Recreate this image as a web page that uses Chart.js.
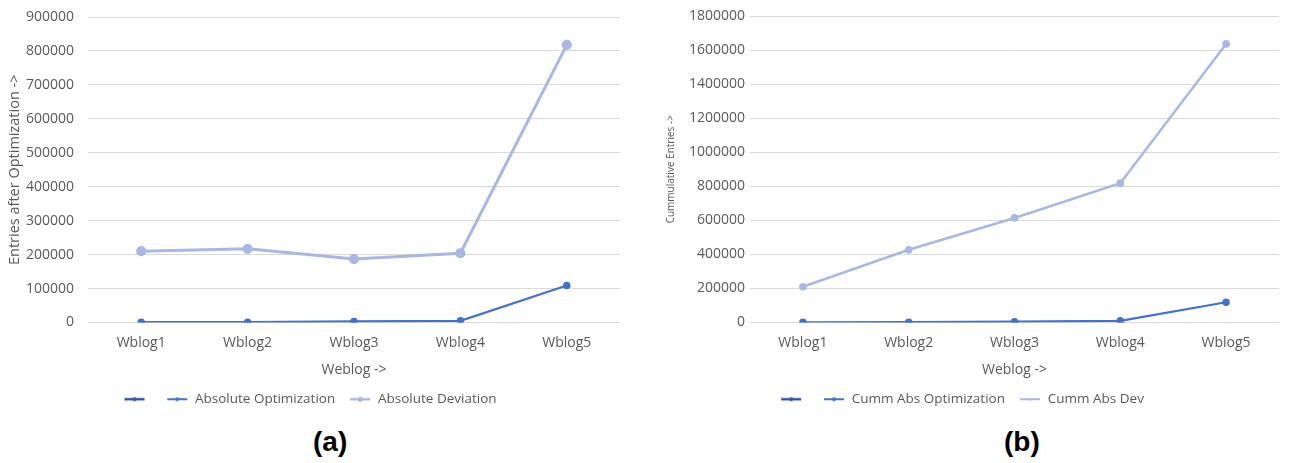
<!DOCTYPE html>
<html>
<head>
<meta charset="utf-8">
<script src="https://cdn.jsdelivr.net/npm/chart.js@4.4.1/dist/chart.umd.min.js"></script>
<style>
  body { margin: 0; background: #fff; width: 1289px; height: 463px; position: relative; overflow: hidden; }
  .panel { position: absolute; top: 0; }
  .tag { position: absolute; top: 426px; font: bold 28px "Liberation Sans", Arial, sans-serif; color: #000; }
</style>
</head>
<body>
<div class="panel" style="left:0"><canvas id="chart-a" width="645" height="420"></canvas></div>
<div class="panel" style="left:645px"><canvas id="chart-b" width="644" height="420"></canvas></div>
<div class="tag" style="left:313px">(a)</div>
<div class="tag" style="left:1004px">(b)</div>
<script>
const weblogs = ["Wblog1", "Wblog2", "Wblog3", "Wblog4", "Wblog5"];

// per-weblog entries
const absOptimization = [1000, 1000, 3000, 5000, 109000];
const absDeviation = [210000, 217000, 187000, 204000, 818000];

// running totals
const cummAbsOptimization = [1000, 2000, 5000, 10000, 119000];
const cummAbsDev = [210000, 427000, 614000, 818000, 1636000];

const DARK = "#2f5597";
const BLUE = "#4472c4";
const LIGHT = "#a9b7e1";
const GRID = "#d9d9d9";
const TEXT = "#595959";

Chart.defaults.font.family = "'Open Sans', sans-serif";
Chart.defaults.color = TEXT;

// little line-with-dot swatch for the legend
function swatch(color, width, radius) {
  const c = document.createElement("canvas");
  c.width = 22;
  c.height = 10;
  const ctx = c.getContext("2d");
  ctx.strokeStyle = color;
  ctx.lineWidth = width;
  ctx.beginPath();
  ctx.moveTo(1, 5);
  ctx.lineTo(21, 5);
  ctx.stroke();
  ctx.fillStyle = color;
  ctx.beginPath();
  ctx.arc(11, 5, radius, 0, Math.PI * 2);
  ctx.fill();
  return c;
}

function makeChart(id, cfg) {
  const datasets = [
    { label: "", data: [], borderColor: DARK, backgroundColor: DARK, legendIcon: swatch(DARK, 2.5, 2) },
    {
      label: cfg.labels[0], data: cfg.opt, borderColor: BLUE, backgroundColor: BLUE,
      borderWidth: 2.25, pointRadius: 2.6, pointHoverRadius: 2.6,
      legendIcon: swatch(BLUE, 2, 2)
    },
    {
      label: cfg.labels[1], data: cfg.dev, borderColor: LIGHT, backgroundColor: LIGHT,
      borderWidth: cfg.devWidth, pointRadius: cfg.devRadius, pointHoverRadius: cfg.devRadius,
      legendIcon: swatch(LIGHT, cfg.devWidth - 0.5, cfg.devRadius - 1)
    }
  ];

  return new Chart(document.getElementById(id), {
    type: "line",
    data: { labels: weblogs, datasets },
    options: {
      responsive: false,
      animation: false,
      layout: { padding: { top: cfg.padTop, right: cfg.padRight, left: 0, bottom: 4 } },
      plugins: {
        tooltip: { enabled: false },
        legend: {
          position: "bottom",
          labels: {
            usePointStyle: true,
            pointStyleWidth: 22,
            padding: 14,
            color: TEXT,
            font: { size: 13.5 },
            generateLabels(chart) {
              return chart.data.datasets.map((ds, i) => ({
                text: ds.label,
                pointStyle: ds.legendIcon,
                fillStyle: ds.borderColor,
                strokeStyle: ds.borderColor,
                lineWidth: 0,
                hidden: false,
                fontColor: TEXT,
                datasetIndex: i
              }));
            }
          }
        }
      },
      scales: {
        x: {
          offset: true,
          grid: { display: false, drawTicks: false },
          border: { display: false },
          ticks: { padding: 12, font: { size: 14 }, color: TEXT },
          title: { display: true, text: "Weblog ->", font: { size: 14 }, color: TEXT, padding: { top: 2, bottom: 0 } },
          afterFit(scale) { scale.height = 56; }
        },
        y: {
          min: 0,
          max: cfg.max,
          grid: { color: GRID, lineWidth: 1, drawTicks: false },
          border: { display: false },
          ticks: {
            stepSize: cfg.step, padding: cfg.tickPad, font: { size: 14 }, color: TEXT,
            callback: value => String(value)
          },
          title: {
            display: true, text: cfg.yTitle, color: TEXT,
            font: { size: cfg.yTitleSize }, padding: { top: cfg.yTitlePad, bottom: 0 }
          },
          afterFit(scale) {
            scale.width = cfg.yWidth;
            // tick padding would otherwise also push the plot down from the top
            scale.paddingTop = 0;
            scale.paddingBottom = 0;
          }
        }
      }
    }
  });
}

makeChart("chart-a", {
  labels: ["Absolute Optimization", "Absolute Deviation"],
  opt: absOptimization,
  dev: absDeviation,
  devWidth: 3,
  devRadius: 3.6,
  max: 900000,
  step: 100000,
  yTitle: "Entries after Optimization ->",
  yTitleSize: 14.5,
  yTitlePad: 6,
  yWidth: 88,
  tickPad: 14,
  padRight: 25,
  padTop: 17
});

makeChart("chart-b", {
  labels: ["Cumm Abs Optimization", "Cumm Abs Dev"],
  opt: cummAbsOptimization,
  dev: cummAbsDev,
  devWidth: 2.5,
  devRadius: 2.6,
  max: 1800000,
  step: 200000,
  yTitle: "Cummulative Entries ->",
  yTitleSize: 10,
  yTitlePad: 20,
  yWidth: 105,
  tickPad: 5,
  padRight: 10,
  padTop: 16
});
</script>
</body>
</html>
